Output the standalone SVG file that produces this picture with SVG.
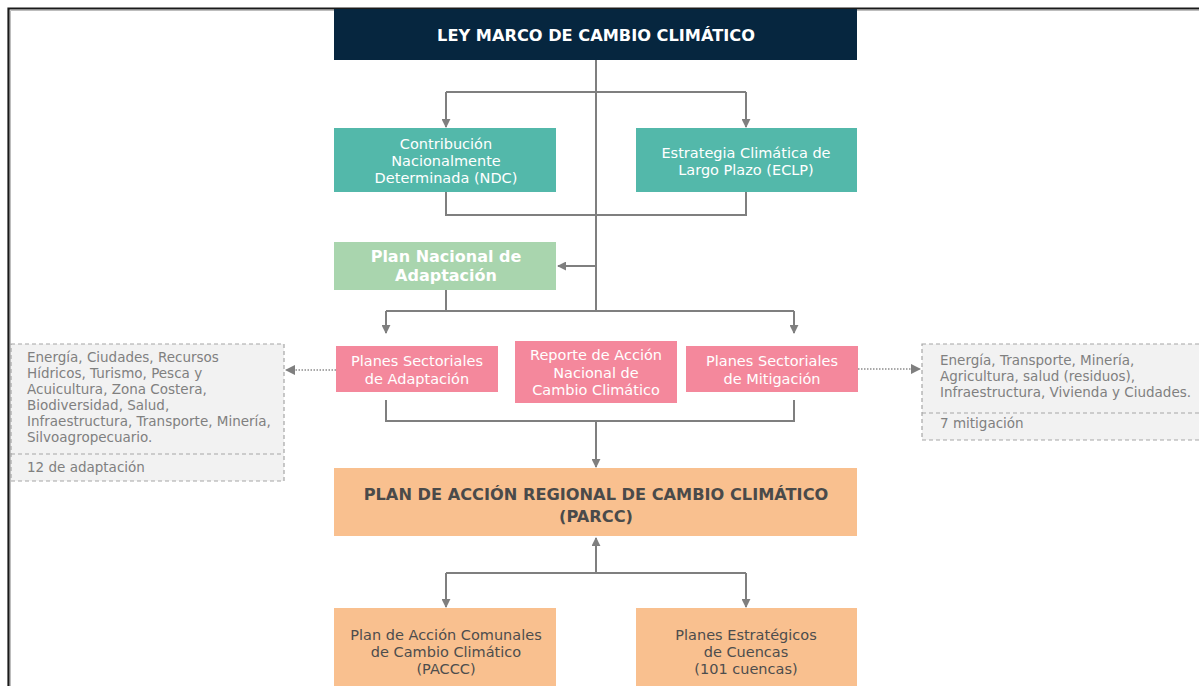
<svg xmlns="http://www.w3.org/2000/svg" width="1199" height="686" viewBox="0 0 1199 686">
<defs>
<marker id="ah" viewBox="0 0 10 10" refX="9" refY="5" markerWidth="4.5" markerHeight="4.5" orient="auto-start-reverse" markerUnits="strokeWidth">
<path d="M0,0 L10,5 L0,10 z" fill="#7f7f7f"/>
</marker>
<marker id="ahs" viewBox="0 0 10 10" refX="9" refY="5" markerWidth="7" markerHeight="7" orient="auto-start-reverse" markerUnits="strokeWidth">
<path d="M0,0 L10,5 L0,10 z" fill="#7f7f7f"/>
</marker>
</defs>
<style>
.t{font-family:"DejaVu Sans","Verdana",sans-serif;text-anchor:middle}
.w{fill:#ffffff;font-size:14.5px}
.wb{fill:#ffffff;font-size:16px;font-weight:bold}
.hb{fill:#4a4a4a;font-size:16.2px;font-weight:bold}
.d{fill:#4d4d4d;font-size:14.5px}
.g{font-family:"DejaVu Sans","Verdana",sans-serif;fill:#808080;font-size:13.5px}
.c{fill:none;stroke:#7f7f7f;stroke-width:2}
.dot{fill:none;stroke:#8c8c8c;stroke-width:1.5;stroke-dasharray:1.5 1.5}
.note{fill:#f2f2f2;stroke:#a6a6a6;stroke-width:1.2;stroke-dasharray:4 3}
</style>
<rect width="1199" height="686" fill="#ffffff"/>
<path d="M8.5,686 V8.5 H1199" fill="none" stroke="#1a1a1a" stroke-width="2.2"/>
<path d="M10.5,686 V10.5 H1199" fill="none" stroke="#bdbdbd" stroke-width="1"/>

<g id="connectors">
<path class="c" d="M596,60 V311"/>
<path class="c" d="M446,92 H746"/>
<path class="c" d="M446,92 V127" marker-end="url(#ah)"/>
<path class="c" d="M746,92 V127" marker-end="url(#ah)"/>
<path class="c" d="M446,192 V215 H746 V192"/>
<path class="c" d="M596,266 H558" marker-end="url(#ah)"/>
<path class="c" d="M446,290 V311"/>
<path class="c" d="M386,311 H794"/>
<path class="c" d="M386,311 V333" marker-end="url(#ah)"/>
<path class="c" d="M794,311 V333" marker-end="url(#ah)"/>
<path class="c" d="M386,400 V421 H794 V400"/>
<path class="c" d="M596,421 V467" marker-end="url(#ah)"/>
<path class="c" d="M596,573 V538" marker-end="url(#ah)"/>
<path class="c" d="M446,573 H746"/>
<path class="c" d="M446,573 V607" marker-end="url(#ah)"/>
<path class="c" d="M746,573 V607" marker-end="url(#ah)"/>
<path class="dot" d="M336,370 H286" marker-end="url(#ahs)"/>
<path class="dot" d="M858,369 H920" marker-end="url(#ahs)"/>
</g>

<g id="ley">
<rect x="334" y="9" width="523" height="51" fill="#06263f"/>
<text class="t wb" x="596" y="41" style="font-size:16.2px">LEY MARCO DE CAMBIO CLIMÁTICO</text>
</g>

<g id="ndc">
<rect x="334" y="128" width="222" height="64" fill="#53b8aa"/>
<text class="t w" x="446" y="149">Contribución</text>
<text class="t w" x="446" y="166">Nacionalmente</text>
<text class="t w" x="446" y="183">Determinada (NDC)</text>
</g>

<g id="eclp">
<rect x="636" y="128" width="221" height="64" fill="#53b8aa"/>
<text class="t w" x="746" y="158">Estrategia Climática de</text>
<text class="t w" x="746" y="175">Largo Plazo (ECLP)</text>
</g>

<g id="pna">
<rect x="334" y="242" width="222" height="48" fill="#a9d5ae"/>
<text class="t wb" x="446" y="262">Plan Nacional de</text>
<text class="t wb" x="446" y="281">Adaptación</text>
</g>

<g id="psa">
<rect x="336" y="346" width="162" height="46" fill="#f4889c"/>
<text class="t w" x="417" y="366">Planes Sectoriales</text>
<text class="t w" x="417" y="384">de Adaptación</text>
</g>

<g id="reporte">
<rect x="515" y="341" width="162" height="62" fill="#f4889c"/>
<text class="t w" x="596" y="360">Reporte de Acción</text>
<text class="t w" x="596" y="378">Nacional de</text>
<text class="t w" x="596" y="395">Cambio Climático</text>
</g>

<g id="psm">
<rect x="686" y="346" width="172" height="46" fill="#f4889c"/>
<text class="t w" x="772" y="366">Planes Sectoriales</text>
<text class="t w" x="772" y="384">de Mitigación</text>
</g>

<g id="nota-adaptacion">
<rect class="note" x="11" y="344" width="273" height="137"/>
<path d="M11,454 H284" stroke="#a6a6a6" stroke-width="1.2" stroke-dasharray="4 3"/>
<text class="g" x="27" y="362">Energía, Ciudades, Recursos</text>
<text class="g" x="27" y="378">Hídricos, Turismo, Pesca y</text>
<text class="g" x="27" y="394">Acuicultura, Zona Costera,</text>
<text class="g" x="27" y="410">Biodiversidad, Salud,</text>
<text class="g" x="27" y="426">Infraestructura, Transporte, Minería,</text>
<text class="g" x="27" y="442">Silvoagropecuario.</text>
<text class="g" x="27" y="472">12 de adaptación</text>
</g>

<g id="nota-mitigacion">
<rect class="note" x="922" y="344" width="290" height="96"/>
<path d="M922,413 H1199" stroke="#a6a6a6" stroke-width="1.2" stroke-dasharray="4 3"/>
<text class="g" x="940" y="365">Energía, Transporte, Minería,</text>
<text class="g" x="940" y="381">Agricultura, salud (residuos),</text>
<text class="g" x="940" y="397">Infraestructura, Vivienda y Ciudades.</text>
<text class="g" x="940" y="428">7 mitigación</text>
</g>

<g id="parcc">
<rect x="334" y="468" width="523" height="68" fill="#f9c08f"/>
<text class="t hb" x="596" y="500">PLAN DE ACCIÓN REGIONAL DE CAMBIO CLIMÁTICO</text>
<text class="t hb" x="596" y="522">(PARCC)</text>
</g>

<g id="paccc">
<rect x="334" y="608" width="222" height="82" fill="#f9c08f"/>
<text class="t d" x="446" y="640">Plan de Acción Comunales</text>
<text class="t d" x="446" y="657">de Cambio Climático</text>
<text class="t d" x="446" y="674">(PACCC)</text>
</g>

<g id="cuencas">
<rect x="636" y="608" width="221" height="82" fill="#f9c08f"/>
<text class="t d" x="746" y="640">Planes Estratégicos</text>
<text class="t d" x="746" y="657">de Cuencas</text>
<text class="t d" x="746" y="674">(101 cuencas)</text>
</g>
</svg>
